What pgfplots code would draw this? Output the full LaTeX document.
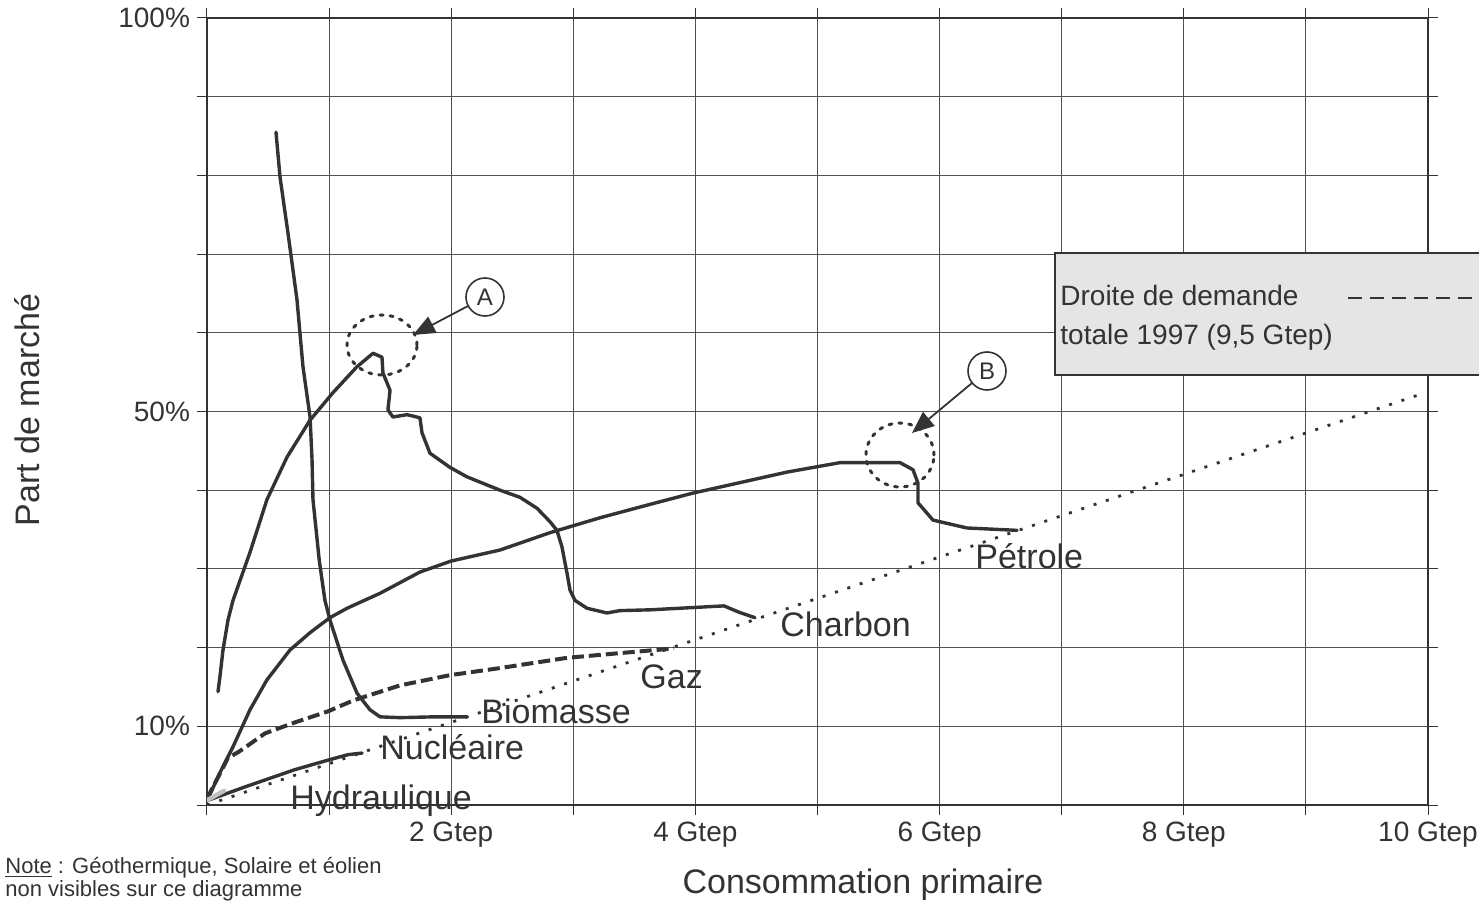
\documentclass[border=0pt]{standalone}
\usepackage{fontspec}
\setmainfont{Liberation Sans}
\usepackage{pgfplots}
\usepackage{pgfplotstable}
\pgfplotsset{compat=1.18}
\usetikzlibrary{arrows.meta}
\definecolor{ink}{HTML}{333333}

\pgfplotstableread{
x y
0.565 85.5
0.598 79.8
0.663 72.7
0.737 64.2
0.786 55.7
0.844 49.3
0.860 44.0
0.868 38.8
0.920 31.0
0.966 26.0
1.007 23.5
1.114 18.4
1.229 14.2
1.335 12.1
1.417 11.2
1.581 11.1
1.851 11.2
2.129 11.2
}\biomasse

\pgfplotstableread{
x y
0.090 14.4
0.106 16.3
0.131 19.7
0.172 23.5
0.213 26.0
0.352 32.1
0.491 38.8
0.655 44.2
0.844 48.9
1.032 52.4
1.229 55.7
1.360 57.4
1.433 56.9
1.441 54.9
1.499 52.7
1.482 50.2
1.523 49.3
1.638 49.6
1.744 49.2
1.761 47.3
1.826 44.7
1.990 42.9
2.129 41.7
2.400 40.0
2.563 39.1
2.703 37.7
2.809 36.0
2.866 34.9
2.907 32.8
2.948 29.5
2.973 27.3
3.014 26.0
3.112 25.0
3.276 24.4
3.382 24.7
3.628 24.8
4.234 25.3
4.357 24.5
4.488 23.8
}\charbon

\pgfplotstableread{
x y
0.008 0.8
0.106 4.1
0.213 7.4
0.352 12.1
0.491 15.9
0.680 19.7
0.844 21.9
1.007 23.8
1.147 25.0
1.417 26.9
1.744 29.6
2.000 31.0
2.400 32.4
2.809 34.6
3.219 36.5
3.628 38.2
3.972 39.6
4.750 42.3
5.184 43.5
5.676 43.5
5.782 42.6
5.823 40.9
5.823 38.4
5.946 36.2
6.224 35.2
6.634 34.9
}\petrole

\pgfplotstableread{
x y
0.000 0.8
0.172 6.0
0.254 6.7
0.311 7.3
0.475 9.1
0.721 10.5
0.991 11.9
1.200 13.3
1.581 15.2
1.990 16.5
2.400 17.4
2.948 18.7
3.382 19.3
3.825 19.9
}\gaz

\pgfplotstableread{
x y
0.008 0.6
0.311 2.3
0.721 4.5
0.991 5.7
1.155 6.4
1.270 6.6
}\nucleaire

\pgfplotstableread{
x y
0.00 0.6
0.14 1.8
}\hydro

\pgfplotstableread{
x y
0.00 0.0
9.94 52.2
}\demande

\begin{document}
\begin{tikzpicture}
\useasboundingbox (-103.5pt,-51pt) rectangle (636pt,402.5pt);
\begin{axis}[
  scale only axis, width=610.5pt, height=393.5pt,
  xmin=0, xmax=10, ymin=0, ymax=100,
  xtick={0,1,...,10},
  xticklabels={,,2 Gtep,,4 Gtep,,6 Gtep,,8 Gtep,,10 Gtep},
  ytick={0,10,...,100},
  yticklabels={,10\%,,,,50\%,,,,,100\%},
  grid=major,
  grid style={ink!85, line width=0.5pt},
  tick align=outside, major tick length=5pt,
  tick style={ink, line width=0.5pt},
  axis line style={ink, line width=0.8pt},
  ticklabel style={font=\fontsize{14}{16}\selectfont, text=ink},
  every axis plot/.append style={ink, line join=round, line cap=round},
]
\addplot[line width=1.4pt, dash pattern=on 1.5pt off 5pt, line cap=butt] table {\demande};
\addplot[line width=1.7pt] table {\biomasse};
\addplot[line width=1.7pt] table {\charbon};
\addplot[line width=1.7pt] table {\petrole};
\addplot[line width=2pt, dash pattern=on 6pt off 2.5pt, line cap=butt] table {\gaz};
\addplot[line width=1.7pt] table {\nucleaire};
\addplot[line width=2.2pt, black!25] table {\hydro};
\draw[ink, line width=1.5pt] (rel axis cs:0,1) -- (rel axis cs:1,1);
\end{axis}
\begin{scope}[shift={(-103.5pt,402.5pt)}, x=0.5pt, y=-0.5pt]
  % axis titles
  \node[rotate=90, font=\fontsize{17}{20}\selectfont, text=ink] at (27,410) {Part de marché};
  \node[anchor=base, font=\fontsize{17}{20}\selectfont, text=ink] at (863,893) {Consommation primaire};
  % note
  \node[anchor=base west, inner sep=0pt, font=\fontsize{11}{13}\selectfont, text=ink] at (5,873) {\underline{Note} : Géothermique, Solaire et éolien};
  \node[anchor=base west, inner sep=0pt, font=\fontsize{11}{13}\selectfont, text=ink] at (5,896) {non visibles sur ce diagramme};
  % curve labels
  \begin{scope}[every node/.style={anchor=base west, inner sep=0pt, font=\fontsize{17}{20}\selectfont, text=ink}]
    \node at (975,568) {Pétrole};
    \node at (780,636) {Charbon};
    \node at (640,688) {Gaz};
    \node at (481,723) {Biomasse};
    \node at (380,759) {Nucléaire};
    \node at (290,809) {Hydraulique};
  \end{scope}
  % annotations A and B
  \draw[ink, line width=1.5pt, dash pattern=on 1.5pt off 3.5pt, line cap=round] (382,345) ellipse [x radius=17.5pt, y radius=15pt];
  \draw[ink, line width=1.5pt, dash pattern=on 1.5pt off 3.5pt, line cap=round] (900,455) ellipse [x radius=17pt, y radius=16pt];
  \draw[ink, line width=0.8pt] (485,297) circle [radius=9.5pt];
  \node[font=\fontsize{12}{14}\selectfont, text=ink] at (485,297) {A};
  \draw[ink, line width=0.8pt] (987,371) circle [radius=9.5pt];
  \node[font=\fontsize{12}{14}\selectfont, text=ink] at (987,371) {B};
  \draw[ink, line width=0.9pt, -{Triangle[length=11pt,width=9pt]}] (468,306) -- (413,335);
  \draw[ink, line width=0.9pt, -{Triangle[length=11pt,width=9pt]}] (972,383) -- (912,433);
  % legend box
  \draw[ink, line width=1.2pt, fill=black!10] (1055,253) rectangle (1500,375);
  \node[anchor=base west, inner sep=0pt, font=\fontsize{14}{16}\selectfont, text=ink] at (1060,305) {Droite de demande};
  \node[anchor=base west, inner sep=0pt, font=\fontsize{14}{16}\selectfont, text=ink] at (1060,345) {totale 1997 (9,5 Gtep)};
  \draw[ink, line width=1pt, dash pattern=on 7pt off 4pt] (1348,298) -- (1500,298);
\end{scope}
\end{tikzpicture}
\end{document}
